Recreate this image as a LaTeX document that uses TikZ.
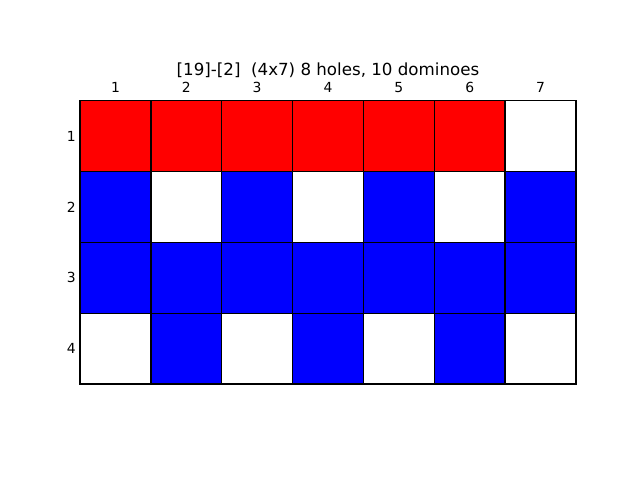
\documentclass[tikz,border=0pt]{standalone}
\usepackage{fontspec}
\setmainfont{DejaVu Sans}
\begin{document}
\begin{tikzpicture}[x=1pt,y=-1pt,
  cell/.style={draw=black,line width=1.5pt,minimum size=70.857pt,inner sep=0pt,outer sep=0pt},
  celr/.style={cell,fill=red},
  celb/.style={cell,fill=blue},
  celw/.style={cell,fill=white},
  ticklab/.style={font=\fontsize{13.9}{16}\selectfont,inner sep=0pt},
  titlelab/.style={font=\fontsize{16.67}{20}\selectfont,inner sep=0pt}]
\useasboundingbox (0,0) rectangle (640,480);
\def\cw{70.857}
\def\xo{80}
\def\yo{100.7}
\foreach \r/\row in {1/{r,r,r,r,r,r,w},2/{b,w,b,w,b,w,b},3/{b,b,b,b,b,b,b},4/{w,b,w,b,w,b,w}}{
  \foreach \k [count=\c] in \row {
    \node[cel\k] (c-\r-\c) at ({\xo+(\c-0.5)*\cw},{\yo+(\r-0.5)*\cw}) {};
  }
}
\foreach \c in {1,...,7}{
  \node[ticklab,anchor=base] (col-\c) at ({\xo+(\c-0.5)*\cw},92.3) {\c};
}
\foreach \r in {1,...,4}{
  \node[ticklab,anchor=east] (row-\r) at (75.8,{\yo+(\r-0.5)*\cw}) {\r};
}
\node[titlelab,anchor=base] (title) at (328,75) {[19]-[2]~ (4x7) 8 holes, 10 dominoes};
\end{tikzpicture}
\end{document}
